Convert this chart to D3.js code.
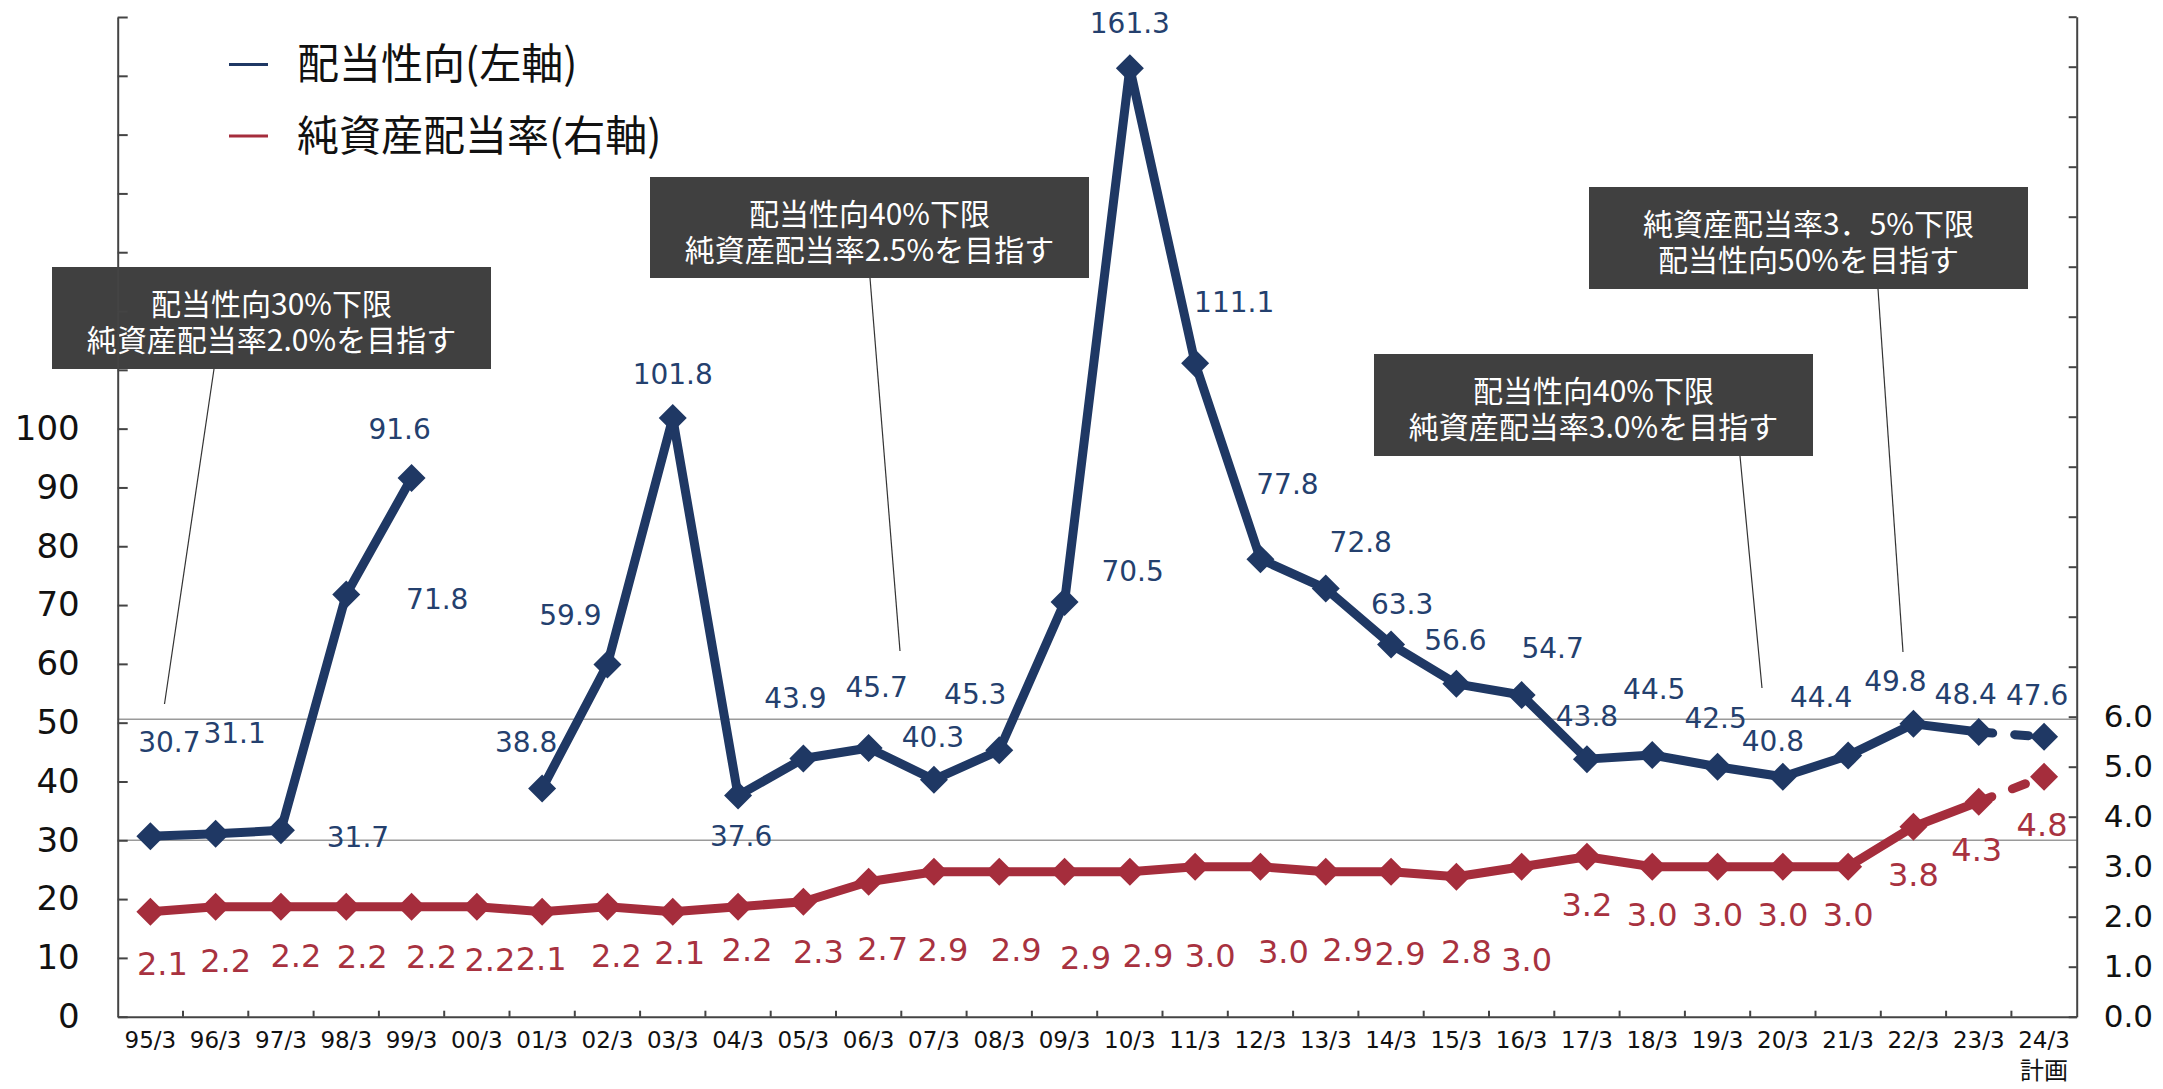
<!DOCTYPE html>
<html>
<head>
<meta charset="utf-8">
<script src="https://cdn.jsdelivr.net/npm/d3@7"></script>
<style>
  body { margin: 0; background: #fff; }
  svg { display: block; }
</style>
</head>
<body>
<svg id="chart" width="2163" height="1089"></svg>
<script>
// fiscal years (March year-end)
const categories = ["95/3", "96/3", "97/3", "98/3", "99/3", "00/3", "01/3", "02/3", "03/3", "04/3",
  "05/3", "06/3", "07/3", "08/3", "09/3", "10/3", "11/3", "12/3", "13/3", "14/3",
  "15/3", "16/3", "17/3", "18/3", "19/3", "20/3", "21/3", "22/3", "23/3", "24/3"];

// 配当性向 (left axis, %), no value for 00/3
const payoutRatio = [30.7, 31.1, 31.7, 71.8, 91.6, null, 38.8, 59.9, 101.8, 37.6,
  43.9, 45.7, 40.3, 45.3, 70.5, 161.3, 111.1, 77.8, 72.8, 63.3,
  56.6, 54.7, 43.8, 44.5, 42.5, 40.8, 44.4, 49.8, 48.4, 47.6];

// 純資産配当率 (right axis, %)
const doeRatio = [2.1, 2.2, 2.2, 2.2, 2.2, 2.2, 2.1, 2.2, 2.1, 2.2,
  2.3, 2.7, 2.9, 2.9, 2.9, 2.9, 3.0, 3.0, 2.9, 2.9,
  2.8, 3.0, 3.2, 3.0, 3.0, 3.0, 3.0, 3.8, 4.3, 4.8];

const leftTicks = d3.range(0, 171, 10);
const rightTicks = d3.range(0, 21, 1);
const refLines = [30, 50.6];
const legendLabels = ["配当性向(左軸)", "純資産配当率(右軸)"];
const planNote = "計画";
const noteLines = [
  ["配当性向30%下限", "純資産配当率2.0%を目指す"],
  ["配当性向40%下限", "純資産配当率2.5%を目指す"],
  ["配当性向40%下限", "純資産配当率3.0%を目指す"],
  ["純資産配当率3．5%下限", "配当性向50%を目指す"]
];

// layout
const blue = "#1f3864";
const red = "#a52d3c";
const numFont = "'DejaVu Sans', sans-serif";
const jpFont = "'Noto Sans CJK JP', sans-serif";
const plotLeft = 117.7, plotRight = 2076.7, plotTop = 17, plotBottom = 1016.7;

// hand-placed label offsets, as in the original
const blueOffsets = [[19, -94], [19, -101], [77, 7], [91, 4], [-12, -49], null, [-16, -47], [-37, -50], [0, -44], [3, 40],
  [-8, -61], [8, -61], [-1, -43], [-24, -56], [68, -31], [0, -45], [39, -61], [27, -75], [35, -47], [11, -41],
  [-1, -44], [31, -47], [0, -43], [2, -66], [-2, -49], [-10, -36], [-27, -59], [-18, -43], [-13, -38], [-7, -42]];
const redOffsets = [[12, 52], [10, 54], [15, 49], [16, 50], [20, 50], [13, 53], [-1, 47], [9, 49], [7, 41], [9, 43],
  [15, 50], [14, 67], [9, 78], [17, 78], [21, 86], [18, 84], [15, 89], [23, 85], [22, 78], [9, 82],
  [10, 75], [5, 93], [0, 48], [0, 48], [0, 48], [0, 48], [0, 48], [0, 48], [-2, 48], [-2, 48]];
const noteBoxes = [
  { x: 52, y: 267, w: 439, h: 102, x1: 214, x2: 164.5, y2: 704 },
  { x: 650, y: 177, w: 439, h: 101, x1: 870, x2: 900, y2: 651 },
  { x: 1374, y: 354, w: 439, h: 102, x1: 1740, x2: 1762, y2: 688 },
  { x: 1589, y: 187, w: 439, h: 102, x1: 1878, x2: 1903, y2: 652 }
];

const svg = d3.select("#chart");

const x = d3.scaleBand().domain(categories).range([plotLeft, plotRight]).padding(0);
const yL = d3.scaleLinear().domain([0, 170]).range([plotBottom, plotTop]);
const yR = d3.scaleLinear().domain([0, 20]).range([plotBottom, 16.7]);
const cx = (i) => x(categories[i]) + x.bandwidth() / 2;

// grey reference lines
svg.selectAll(".ref").data(refLines).join("line")
  .attr("x1", plotLeft).attr("x2", plotRight)
  .attr("y1", (d) => yL(d)).attr("y2", (d) => yL(d))
  .attr("stroke", "#9a9a9a").attr("stroke-width", 1.5);

// note leader lines
svg.selectAll(".leader").data(noteBoxes).join("line")
  .attr("x1", (d) => d.x1).attr("y1", (d) => d.y + d.h)
  .attr("x2", (d) => d.x2).attr("y2", (d) => d.y2)
  .attr("stroke", "#333").attr("stroke-width", 1.2);

// note boxes (two lines in one text element)
const notes = svg.selectAll(".note").data(noteBoxes).join("g");
notes.append("rect")
  .attr("x", (d) => d.x).attr("y", (d) => d.y)
  .attr("width", (d) => d.w).attr("height", (d) => d.h)
  .attr("fill", "#404040");
notes.each(function (d, i) {
  d3.select(this).append("text")
    .attr("text-anchor", "middle")
    .attr("fill", "#fff")
    .style("font-family", jpFont)
    .style("font-size", "30px")
    .selectAll("tspan").data(noteLines[i]).join("tspan")
    .attr("x", d.x + d.w / 2)
    .attr("y", (_t, j) => d.y + 37 + j * 36)
    .attr("dy", "0.35em")
    .text((t) => t);
});

// axes
const axisL = svg.append("g").attr("transform", `translate(${plotLeft},0)`)
  .call(d3.axisLeft(yL).tickValues(leftTicks).tickSizeInner(-10).tickSizeOuter(0).tickPadding(38)
    .tickFormat((d) => (d <= 100 ? d : "")));
const axisR = svg.append("g").attr("transform", `translate(${plotRight},0)`)
  .call(d3.axisRight(yR).tickValues(rightTicks).tickSizeInner(-8).tickSizeOuter(0).tickPadding(27)
    .tickFormat((d) => (d <= 6 ? d3.format(".1f")(d) : "")));
const axisB = svg.append("g").attr("transform", `translate(0,${plotBottom})`)
  .call(d3.axisBottom(x).tickSize(0).tickPadding(15));

axisL.select(".domain").attr("stroke", "#444").attr("stroke-width", 2);
axisR.select(".domain").attr("stroke", "#444").attr("stroke-width", 2);
axisB.select(".domain").attr("stroke", "#444").attr("stroke-width", 2);
svg.selectAll(".tick line").attr("stroke", "#444").attr("stroke-width", 2);
axisL.selectAll("text").style("font-family", numFont).style("font-size", "34px").attr("fill", "#111");
axisR.selectAll("text").style("font-family", numFont).style("font-size", "31px").attr("fill", "#111");
axisB.selectAll("text").style("font-family", numFont).style("font-size", "23px").attr("fill", "#111");

// category boundary ticks
svg.append("g").selectAll("line").data(categories.slice(1)).join("line")
  .attr("x1", (d) => x(d)).attr("x2", (d) => x(d))
  .attr("y1", plotBottom).attr("y2", plotBottom - 6)
  .attr("stroke", "#444").attr("stroke-width", 2);

svg.append("text")
  .attr("x", cx(categories.length - 1)).attr("y", 1071)
  .attr("dy", "0.35em").attr("text-anchor", "middle")
  .attr("fill", "#111")
  .style("font-family", jpFont).style("font-size", "24px")
  .text(planNote);

// series drawing
const last = categories.length - 1;
function drawSeries(values, yScale, color) {
  const pts = values.map((v, i) => ({ i, v }));
  const line = d3.line()
    .defined((d) => d.v !== null)
    .x((d) => cx(d.i))
    .y((d) => yScale(d.v));
  svg.append("path").datum(pts.slice(0, last))
    .attr("d", line).attr("fill", "none")
    .attr("stroke", color).attr("stroke-width", 9)
    .attr("stroke-linejoin", "round");
  // plan year drawn dashed
  svg.append("path").datum(pts.slice(last - 1))
    .attr("d", line).attr("fill", "none")
    .attr("stroke", color).attr("stroke-width", 9)
    .attr("stroke-linecap", "round")
    .attr("stroke-dasharray", "14,22");
  svg.append("g").selectAll("path").data(pts.filter((d) => d.v !== null)).join("path")
    .attr("d", d3.symbol(d3.symbolSquare, 392))
    .attr("transform", (d) => `translate(${cx(d.i)},${yScale(d.v)}) rotate(45)`)
    .attr("fill", color);
}
drawSeries(doeRatio, yR, red);
drawSeries(payoutRatio, yL, blue);

// data labels
function drawLabels(values, yScale, offsets, color, size, fmt) {
  const pts = values.map((v, i) => ({ i, v })).filter((d) => d.v !== null);
  svg.append("g").selectAll("text").data(pts).join("text")
    .attr("x", (d) => cx(d.i) + offsets[d.i][0])
    .attr("y", (d) => yScale(d.v) + offsets[d.i][1])
    .attr("dy", "0.36em")
    .attr("text-anchor", "middle")
    .attr("fill", color)
    .style("font-family", numFont)
    .style("font-size", size)
    .text((d) => fmt(d.v));
}
drawLabels(payoutRatio, yL, blueOffsets, "#24406e", "28px", d3.format(".1f"));
drawLabels(doeRatio, yR, redOffsets, "#a83240", "32px", d3.format(".1f"));

// legend
const legend = svg.append("g").selectAll("g").data(legendLabels).join("g")
  .attr("transform", (_d, i) => `translate(229,${64.5 + i * 71.5})`);
legend.append("line")
  .attr("x1", 0).attr("x2", 39)
  .attr("stroke", (_d, i) => (i === 0 ? blue : red)).attr("stroke-width", 3);
legend.append("text")
  .attr("x", 68).attr("dy", "0.35em")
  .attr("fill", "#111")
  .style("font-family", jpFont).style("font-size", "42px")
  .text((d) => d);
</script>
</body>
</html>
